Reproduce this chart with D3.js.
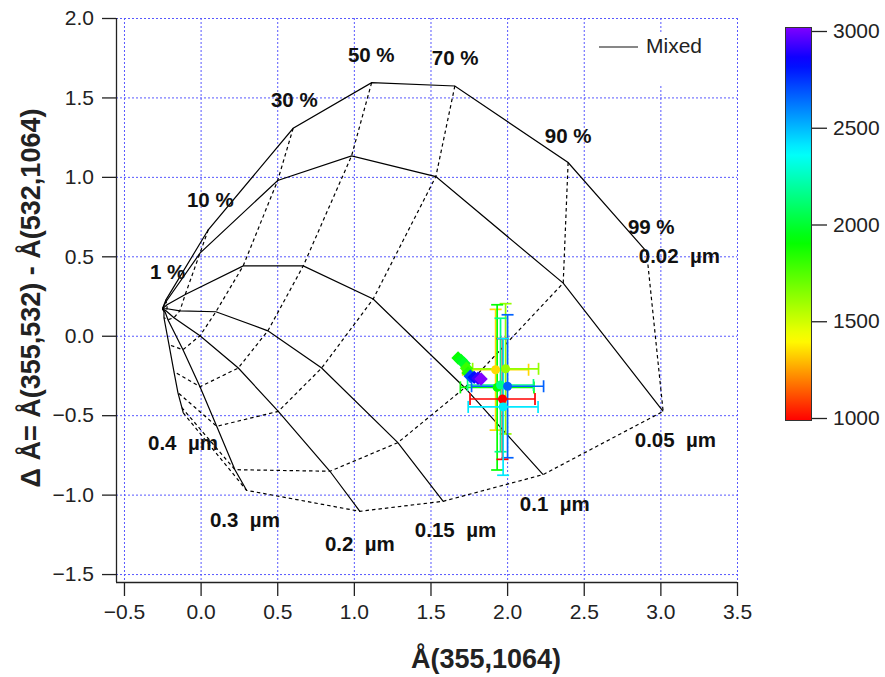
<!DOCTYPE html>
<html>
<head>
<meta charset="utf-8">
<script src="https://cdn.jsdelivr.net/npm/d3@7"></script>
<style>
  body { margin: 0; background: #fff; }
  svg { font-family: "Liberation Sans", Arial, sans-serif; }
</style>
</head>
<body>
<svg id="chart" width="885" height="677"></svg>
<script>
/* global d3 */

// axis ticks
const xTicks = [-0.5, 0, 0.5, 1, 1.5, 2, 2.5, 3, 3.5];
const yTicks = [-1.5, -1, -0.5, 0, 0.5, 1, 1.5, 2];
const colorTicks = [1000, 1500, 2000, 2500, 3000];

// classification mesh: one row per fine-mode radius, one column per fine-mode fraction
const radii = ['0.02', '0.05', '0.1', '0.15', '0.2', '0.3', '0.4'];
const fractions = [1, 10, 30, 50, 70, 90, 99];
const coarseAE = -0.249;
const coarseDAE = 0.170;
const meshAE = [
  [-0.226, 0.050, 0.604, 1.116, 1.659, 2.398, 2.910],
  [-0.226, -0.004, 0.503, 0.985, 1.535, 2.366, 3.018],
  [-0.219, -0.100, 0.278, 0.670, 1.126, 1.724, 2.235],
  [-0.219, -0.135, 0.100, 0.439, 0.790, 1.287, 1.583],
  [-0.226, -0.174, -0.004, 0.246, 0.507, 0.844, 1.039],
  [-0.232, -0.213, -0.115, -0.004, 0.105, 0.224, 0.300],
  [-0.239, -0.239, -0.206, -0.174, -0.148, -0.122, -0.113],
];
const meshDAE = [
  [0.226, 0.667, 1.306, 1.593, 1.572, 1.090, 0.530],
  [0.214, 0.520, 0.977, 1.132, 1.002, 0.331, -0.476],
  [0.195, 0.260, 0.440, 0.440, 0.231, -0.327, -0.874],
  [0.170, 0.157, 0.151, 0.031, -0.203, -0.673, -1.042],
  [0.157, 0.113, 0.000, -0.203, -0.476, -0.853, -1.105],
  [0.151, 0.101, -0.088, -0.321, -0.570, -0.843, -0.973],
  [0.151, 0.113, -0.057, -0.226, -0.358, -0.453, -0.486],
];

// observations with error bars, coloured by value
const obsAE = [1.925, 1.990, 1.935, 1.957, 2.003, 1.970, 1.974];
const obsDAE = [-0.214, -0.208, -0.325, -0.310, -0.318, -0.398, -0.448];
const obsAEErr = [0.215, 0.215, 0.240, 0.215, 0.235, 0.212, 0.228];
const obsDAEErr = [0.38, 0.41, 0.52, 0.42, 0.45, 0.38, 0.43];
const obsValue = [1350, 1620, 1900, 2150, 2650, 1000, 2400];

// profile points (diamonds)
const trailAE = [1.680, 1.700, 1.720, 1.735, 1.745, 1.760, 1.785, 1.810, 1.830];
const trailDAE = [-0.140, -0.155, -0.175, -0.205, -0.235, -0.255, -0.262, -0.268, -0.272];
const trailValue = [1900, 1950, 1980, 1800, 1850, 2700, 2800, 2900, 3000];

// annotation anchors (data units)
const fractionLabelAE = [-0.330, -0.089, 0.459, 0.961, 1.509, 2.246, 2.788];
const fractionLabelDAE = [0.358, 0.811, 1.440, 1.723, 1.704, 1.216, 0.642];
const radiusLabelAE = [2.859, 2.833, 2.083, 1.398, 0.811, 0.061, -0.343];
const radiusLabelDAE = [0.459, -0.698, -1.101, -1.264, -1.352, -1.201, -0.717];

const svg = d3.select('#chart');
const plotLeft = 116;
const plotRight = 737;
const plotTop = 18;
const plotBottom = 582;

const x = d3.scaleLinear().domain([-0.552, 3.5]).range([plotLeft, plotRight]);
const y = d3.scaleLinear().domain([-1.55, 2.0]).range([plotBottom, plotTop]);

// rainbow from red (1000) to violet (3000)
const hue = d3.scaleLinear()
  .domain([1000, 1410, 1910, 2360, 2830, 3000])
  .range([0, 60, 120, 180, 240, 270])
  .clamp(true);
const color = v => d3.hsl(hue(v), 1, 0.5).formatHex();

/* ***
  grid
*** */
const grid = svg.append('g')
  .attr('stroke', '#5858ff')
  .attr('stroke-width', 1)
  .attr('stroke-dasharray', '2,2');

grid.selectAll('line.gx')
  .data(xTicks)
  .enter().append('line')
  .attr('x1', d => x(d) + 0.5)
  .attr('x2', d => x(d) + 0.5)
  .attr('y1', plotTop)
  .attr('y2', plotBottom);

grid.selectAll('line.gy')
  .data(yTicks)
  .enter().append('line')
  .attr('x1', plotLeft)
  .attr('x2', plotRight)
  .attr('y1', d => y(d) + 0.5)
  .attr('y2', d => y(d) + 0.5);

/* ***
  mesh
*** */
const line = d3.line().x(d => x(d[0])).y(d => y(d[1]));
const mesh = svg.append('g').attr('fill', 'none').attr('stroke', '#000');

// constant radius: solid
radii.forEach((r, i) => {
  const pts = [[coarseAE, coarseDAE]].concat(meshAE[i].map((v, j) => [v, meshDAE[i][j]]));
  mesh.append('path')
    .attr('d', line(pts))
    .attr('stroke-width', 1.2);
});

// constant fraction: dashed
fractions.forEach((f, j) => {
  const pts = radii.map((r, i) => [meshAE[i][j], meshDAE[i][j]]);
  mesh.append('path')
    .attr('d', line(pts))
    .attr('stroke-width', 1.2)
    .attr('stroke-dasharray', '3.5,3');
});

const labels = svg.append('g')
  .attr('font-weight', 'bold')
  .attr('font-size', 20.5)
  .attr('fill', '#111');

labels.selectAll('text.frac')
  .data(fractions)
  .enter().append('text')
  .attr('x', (d, j) => x(fractionLabelAE[j]))
  .attr('y', (d, j) => y(fractionLabelDAE[j]))
  .text(d => `${d} %`);

labels.selectAll('text.rad')
  .data(radii)
  .enter().append('text')
  .attr('x', (d, i) => x(radiusLabelAE[i]))
  .attr('y', (d, i) => y(radiusLabelDAE[i]))
  .attr('xml:space', 'preserve')
  .text(d => `${d}  µm`);

/* ***
  legend
*** */
const legend = svg.append('g');
legend.append('rect')
  .attr('x', 586).attr('y', 33)
  .attr('width', 146).attr('height', 51)
  .attr('fill', '#fff');
legend.append('line')
  .attr('x1', 599).attr('x2', 638)
  .attr('y1', 47).attr('y2', 47)
  .attr('stroke', '#111').attr('stroke-width', 1.2);
legend.append('text')
  .attr('x', 646).attr('y', 53)
  .attr('font-size', 21)
  .attr('fill', '#222')
  .text('Mixed');

/* ***
  observations
*** */
const obs = svg.append('g').attr('stroke-width', 1.7);
const cap = 6;
obsAE.forEach((ae, i) => {
  const c = color(obsValue[i]);
  const g = obs.append('g').attr('stroke', c);
  const x0 = x(ae - obsAEErr[i]);
  const x1 = x(ae + obsAEErr[i]);
  const y0 = y(obsDAE[i] + obsDAEErr[i]);
  const y1 = y(obsDAE[i] - obsDAEErr[i]);
  const cx = x(ae);
  const cy = y(obsDAE[i]);
  g.append('line').attr('x1', x0).attr('x2', x1).attr('y1', cy).attr('y2', cy);
  g.append('line').attr('x1', x0).attr('x2', x0).attr('y1', cy - cap).attr('y2', cy + cap);
  g.append('line').attr('x1', x1).attr('x2', x1).attr('y1', cy - cap).attr('y2', cy + cap);
  g.append('line').attr('x1', cx).attr('x2', cx).attr('y1', y0).attr('y2', y1);
  g.append('line').attr('x1', cx - cap).attr('x2', cx + cap).attr('y1', y0).attr('y2', y0);
  g.append('line').attr('x1', cx - cap).attr('x2', cx + cap).attr('y1', y1).attr('y2', y1);
});

const diamond = d3.symbol().type(d3.symbolSquare).size(90);
svg.append('g').selectAll('path')
  .data(trailAE)
  .enter().append('path')
  .attr('d', diamond)
  .attr('transform', (d, i) => `translate(${x(d)},${y(trailDAE[i])}) rotate(45)`)
  .attr('fill', (d, i) => color(trailValue[i]));

svg.append('g').selectAll('circle')
  .data(obsAE)
  .enter().append('circle')
  .attr('cx', d => x(d))
  .attr('cy', (d, i) => y(obsDAE[i]))
  .attr('r', 4.5)
  .attr('fill', (d, i) => color(obsValue[i]));

/* ***
  axes
*** */
const fmt = d3.format('.1f');
const xAxis = svg.append('g')
  .attr('transform', `translate(0,${plotBottom})`)
  .call(d3.axisBottom(x).tickValues(xTicks).tickFormat(fmt).tickSize(14).tickPadding(8).tickSizeOuter(0));
const yAxis = svg.append('g')
  .attr('transform', `translate(${plotLeft},0)`)
  .call(d3.axisLeft(y).tickValues(yTicks).tickFormat(fmt).tickSize(14).tickPadding(8).tickSizeOuter(0));

[xAxis, yAxis].forEach((a) => {
  a.attr('font-family', '"Liberation Sans", Arial, sans-serif').attr('font-size', 21);
  a.selectAll('text').attr('fill', '#222');
  a.selectAll('line, path').attr('stroke', '#222').attr('stroke-width', 1.3);
});
// x axis line reaches the y axis
xAxis.select('.domain').attr('d', `M${plotLeft},0.5H${plotRight}`);
yAxis.select('.domain').attr('d', `M0.5,${plotTop}V${plotBottom}`);

svg.append('text')
  .attr('x', 486).attr('y', 668)
  .attr('text-anchor', 'middle')
  .attr('font-weight', 'bold')
  .attr('font-size', 27)
  .attr('fill', '#222')
  .text('Å(355,1064)');

svg.append('text')
  .attr('transform', 'translate(31,298) rotate(-90)')
  .attr('text-anchor', 'middle')
  .attr('dominant-baseline', 'central')
  .attr('font-weight', 'bold')
  .attr('font-size', 27)
  .attr('fill', '#222')
  .text('Δ Å= Å(355,532) - Å(532,1064)');

/* ***
  colour bar
*** */
const cb = d3.scaleLinear().domain([1000, 3000]).range([418, 31]);
const defs = svg.append('defs');
const grad = defs.append('linearGradient')
  .attr('id', 'cbar')
  .attr('x1', 0).attr('x2', 0).attr('y1', 1).attr('y2', 0);
d3.range(1000, 3001, 50).forEach((v) => {
  grad.append('stop')
    .attr('offset', `${((v - 1000) / 2000) * 100}%`)
    .attr('stop-color', color(v));
});
svg.append('rect')
  .attr('x', 785.5).attr('y', 27.5)
  .attr('width', 26).attr('height', 393)
  .attr('fill', 'url(#cbar)')
  .attr('stroke', '#333')
  .attr('stroke-width', 1);

const cbAxis = svg.append('g')
  .attr('transform', 'translate(812,0)')
  .call(d3.axisRight(cb).tickValues(colorTicks).tickFormat(d3.format('d'))
    .tickSize(15).tickPadding(6).tickSizeOuter(0));
cbAxis.select('.domain').remove();
cbAxis.attr('font-family', '"Liberation Sans", Arial, sans-serif').attr('font-size', 21);
cbAxis.selectAll('text').attr('fill', '#222');
cbAxis.selectAll('line').attr('stroke', '#222').attr('stroke-width', 1.3);
</script>
</body>
</html>
